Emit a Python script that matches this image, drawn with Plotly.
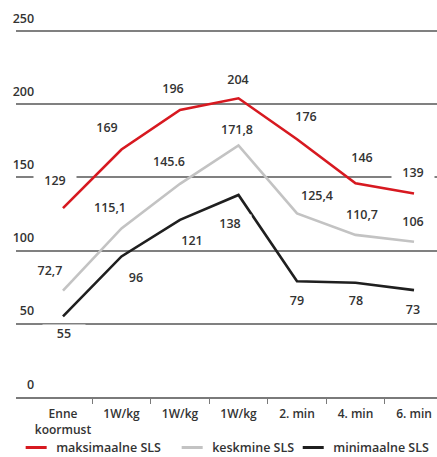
import plotly.graph_objects as go

# Categories along the x axis (the 1W/kg step repeats three times)
categories = ["Enne<br>koormust", "1W/kg", "1W/kg", "1W/kg", "2. min", "4. min", "6. min"]

# Series values
max_sls = [129, 169, 196, 204, 176, 146, 139]
mean_sls = [72.7, 115.1, 145.6, 171.8, 125.4, 110.7, 106]
min_sls = [55, 96, 121, 138, 79, 78, 73]

# Value labels as printed
max_text = ["129", "169", "196", "204", "176", "146", "139"]
mean_text = ["72,7", "115,1", "145.6", "171,8", "125,4", "110,7", "106"]
min_text = ["55", "96", "121", "138", "79", "78", "73"]

y_ticks = [0, 50, 100, 150, 200, 250]

series_names = ["maksimaalne SLS", "keskmine SLS", "minimaalne SLS"]
colors = ["#d71920", "#c3c3c3", "#1f1f1f"]

# label offsets in px (dx, dy) relative to each point
max_off = [(-8, 28), (-14, 22), (-7, 22), (0, 19), (9, 23), (6, 26), (-1, 21)]
mean_off = [(-13, 20), (-11, 21), (-11, 22), (-1, 16), (20, 18), (6, 20), (-1, 20)]
min_off = [(1, -17), (15, -21), (12, -21), (-8, -29), (0, -19), (0, -18), (-1, -19)]

# horizontal start of each legend box (fraction of figure width)
legend_x = [0.037, 0.394, 0.671]

FONT = "Open Sans"
TXT = "#333333"
FNT = dict(family=FONT, size=12.5, color=TXT, weight=600)
x = list(range(len(categories)))

fig = go.Figure()
for vals, name, col in zip([max_sls, mean_sls, min_sls], series_names, colors):
    fig.add_trace(go.Scatter(x=x, y=vals, mode="lines", name=name, showlegend=False,
                             line=dict(color=col, width=2.6), hoverinfo="skip"))
# compact legend keys, one legend box each
legend_ids = ["legend", "legend2", "legend3"]
for name, col, lid in zip(series_names, colors, legend_ids):
    fig.add_trace(go.Scatter(x=[None], y=[None], mode="markers", name=name, legend=lid,
                             marker=dict(symbol="line-ew", size=15,
                                         line=dict(color=col, width=3))))

annotations = []
for vals, texts, offs in [(max_sls, max_text, max_off),
                          (mean_sls, mean_text, mean_off),
                          (min_sls, min_text, min_off)]:
    for i, (v, t, (dx, dy)) in enumerate(zip(vals, texts, offs)):
        annotations.append(dict(x=i, y=v, text=t, showarrow=False, xshift=dx, yshift=dy,
                                bgcolor="white", width=42, borderpad=0, font=FNT))

legend_common = dict(orientation="h", xref="container", yref="container",
                     y=0.02, xanchor="left", yanchor="middle", font=FNT,
                     itemwidth=30, bgcolor="rgba(0,0,0,0)")

fig.update_layout(
    template="none",
    width=437, height=457,
    margin=dict(l=16, r=0, t=28, b=60, autoexpand=False),
    paper_bgcolor="white", plot_bgcolor="white",
    font=FNT,
    annotations=annotations,
    showlegend=True,
    legend=dict(legend_common, x=legend_x[0]),
    legend2=dict(legend_common, x=legend_x[1]),
    legend3=dict(legend_common, x=legend_x[2]),
    xaxis=dict(range=[-0.803, 6.393], tickmode="array", tickvals=x, ticktext=categories,
               automargin=False,
               showgrid=False, zeroline=False, showline=True, linecolor="#7a7a7a",
               linewidth=1.5, ticks="", ticklabelstandoff=5,
               minor=dict(tickmode="array", tickvals=[i + 0.5 for i in x[:-1]],
                          ticks="outside", ticklen=5, tickwidth=1.2, tickcolor="#7a7a7a",
                          showgrid=False),
               tickfont=dict(FNT, size=12), fixedrange=True),
    yaxis=dict(range=[0, 252], tickmode="array", tickvals=y_ticks,
               anchor="free", position=0.043, automargin=False,
               showgrid=True, gridcolor="#808080", gridwidth=1.5, zeroline=False,
               showline=False, ticks="", ticklabelposition="outside top",
               ticklabelstandoff=0, ticklabelshift=-4,
               tickfont=FNT, fixedrange=True),
)

fig.write_html("out.html", config={"displayModeBar": False})
